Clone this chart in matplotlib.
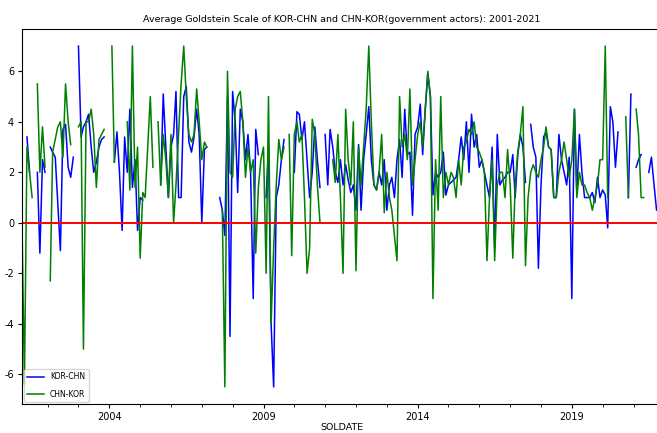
import numpy as np
import pandas as pd
import matplotlib
matplotlib.use("Agg")
import matplotlib.pyplot as plt
import matplotlib.dates as mdates
from matplotlib.ticker import FixedLocator, NullFormatter

plt.rcParams['font.family'] = ['Liberation Sans Narrow', 'DejaVu Sans']
plt.rcParams['axes.unicode_minus'] = False

N = np.nan

# monthly averages, 2001-03 .. 2021-12
months = pd.date_range("2001-03-01", "2021-12-01", freq="MS")

kor_chn = [
    N, N, 3.4, 2.0, N, N, 2.0, -1.2, 2.5, 2.0,                  # 2001
    N, 3.0, 2.8, 2.6, 0.8, -1.1, 3.7, 3.9, 2.2, 1.8, 2.6, N,   # 2002
    7.0, 3.4, 3.8, 4.0, 4.3, 3.0, 2.0, 2.4, 3.0, 3.3, 3.4, N,  # 2003
    N, N, 2.4, 3.6, 2.0, -0.3, 3.4, 2.0, 4.5, 1.4, 2.5, -0.3,  # 2004
    1.0, 0.9, N, N, N, N, N, N, 1.5, 5.1, 3.0, 1.0,            # 2005
    3.0, 3.5, 5.2, 1.0, 1.0, 5.0, 5.4, 3.2, 2.8, 3.4, 4.5, 3.5,  # 2006
    0.0, 2.9, 3.0, N, N, N, N, 1.0, 0.5, -0.5, 5.0, -4.5,      # 2007
    5.2, 4.0, 1.2, 4.5, 4.0, 2.5, 3.5, 2.0, -3.0, 3.7, 2.7, N,  # 2008
    N, 1.0, 3.0, -4.0, -6.5, 1.0, 1.5, 2.5, 3.3, N, N, N,      # 2009
    2.0, 4.4, 4.3, 3.3, 4.0, 2.5, 1.0, 2.0, 3.8, 2.5, 1.4, N,  # 2010
    3.5, 1.5, 3.7, 3.0, 2.0, 1.6, 2.5, 1.5, 2.3, 1.7, 1.2, 1.5,  # 2011
    0.5, 3.1, 0.5, 2.5, 3.5, 4.6, 2.5, 1.5, 1.3, 2.0, 1.5, 2.5,  # 2012
    0.5, 1.5, 1.8, 1.0, 2.5, 3.3, 1.8, 4.5, 2.7, 2.8, 0.3, 3.5,  # 2013
    3.8, 4.7, 2.7, 4.5, 5.9, 5.0, 1.1, 2.0, 1.8, 2.0, 2.8, 1.1,  # 2014
    1.5, 1.6, 1.7, 1.8, 2.5, 3.4, 2.5, 4.0, 2.0, 4.3, 3.0, 3.5,  # 2015
    2.2, 2.5, 2.0, 1.5, 1.0, 3.0, -1.0, 3.5, 1.5, 1.7, 1.8, 2.0,  # 2016
    2.0, 2.7, 1.0, 2.7, 3.5, 3.0, 1.6, N, 3.9, 3.0, 2.6, -1.8,  # 2017
    1.5, 3.4, 3.6, 3.0, 2.9, 1.0, 1.0, 3.5, 2.5, 2.0, 1.5, 2.6,  # 2018
    -3.0, 4.5, 1.2, 3.5, 2.0, 1.0, 1.0, 1.0, 1.2, 0.8, 1.8, 1.0,  # 2019
    1.3, 1.1, -0.2, 4.6, 4.0, 2.2, 3.6, N, N, N, 1.0, 5.1,     # 2020
    N, 2.2, 2.5, 2.7, N, N, 2.0, 2.6, 1.5, 0.5, 0.6, 0.7,      # 2021
]

chn_kor = [
    0.5, -6.4, 3.0, 2.0, 1.0, N, 5.5, 2.0, 3.8, 2.2,            # 2001
    N, -2.3, 2.8, 3.3, 3.8, 4.0, 2.6, 5.5, 4.0, 3.1, N, N,     # 2002
    3.8, 4.0, -5.0, 4.0, 4.0, 4.5, 3.5, 1.4, 3.3, 3.5, 3.7, N,  # 2003
    N, 7.0, 2.4, N, N, N, N, 4.0, 1.3, 7.0, 1.4, 3.0,          # 2004
    -1.4, 1.2, 1.0, 3.0, 5.0, 2.2, N, 4.0, 1.5, 3.5, 2.5, 1.0,  # 2005
    3.5, 0.0, 1.5, 3.5, 5.5, 7.0, 5.0, 3.5, 3.2, 3.5, 5.3, 4.0,  # 2006
    2.5, 3.2, 3.0, N, N, N, N, N, 0.5, -6.5, 6.0, 2.0,         # 2007
    1.8, 4.5, 5.0, 5.2, 4.0, 1.8, 3.0, 2.0, 2.5, -1.2, 1.4, 2.5,  # 2008
    3.0, -2.0, 5.0, -4.0, -1.0, 1.5, 3.3, 2.5, 3.0, N, 3.5, -1.3,  # 2009
    3.5, 4.0, 3.2, 3.5, 1.0, -2.0, -1.0, 4.1, 3.5, 1.5, 0.0, N,  # 2010
    N, N, N, 2.5, 1.6, 3.5, 1.0, -2.0, 4.5, 2.5, 1.5, 4.0,     # 2011
    -1.9, 3.0, 1.5, 3.0, 4.5, 7.0, 4.0, 1.5, 1.3, 2.0, 3.5, 0.4,  # 2012
    2.0, 1.0, 0.5, -0.5, -1.5, 5.0, 3.0, 3.5, 2.5, 5.3, 1.5, 2.5,  # 2013
    3.5, 4.0, 3.0, 4.5, 6.0, 5.0, -3.0, 2.5, 0.5, 5.0, 1.0, 2.0,  # 2014
    1.5, 2.0, 1.8, 1.0, 2.5, 1.5, 3.0, 3.2, 3.7, 3.5, 4.0, 3.0,  # 2015
    2.8, 2.5, 2.0, -1.5, 1.0, 2.5, -1.5, 1.5, 2.0, 2.0, 1.0, 2.9,  # 2016
    1.5, -1.4, 1.5, 2.8, 3.5, 4.6, -1.7, 1.0, 2.0, 2.3, 2.0, 1.8,  # 2017
    2.5, 3.0, 3.8, 3.0, 2.9, 1.0, 1.0, 2.0, 2.5, 3.2, 2.5, 1.8,  # 2018
    2.5, 4.5, 1.0, 2.0, 1.5, 1.5, 1.2, 1.0, 0.5, 1.0, 1.5, 2.5,  # 2019
    2.5, 7.0, 1.0, N, N, N, N, N, N, 4.2, 1.0, N,              # 2020
    N, 4.5, 3.5, 1.0, 1.0, N, N, N, N, N, N, N,                # 2021
]

major_years = [2004, 2009, 2014, 2019]
minor_years = list(range(2002, 2022))

fig = plt.figure(figsize=(6.57, 4.33), dpi=100)
ax = fig.add_axes([0.0332, 0.067, 0.974, 0.866])

ax.plot(months, kor_chn, color='blue', lw=1.1, label='KOR-CHN')
ax.plot(months, chn_kor, color='green', lw=1.1, label='CHN-KOR')
ax.axhline(0, color='red', lw=1.4)

ax.set_xlim(months[0], months[-1])
ax.set_yticks([-6, -4, -2, 0, 2, 4, 6])

major = [mdates.date2num(pd.Timestamp(f"{y}-01-01")) for y in major_years]
minor = [mdates.date2num(pd.Timestamp(f"{y}-01-01")) for y in minor_years]
ax.xaxis.set_major_locator(FixedLocator(major))
ax.xaxis.set_major_formatter(mdates.DateFormatter('%Y'))
ax.xaxis.set_minor_locator(FixedLocator(minor))
ax.xaxis.set_minor_formatter(NullFormatter())

ax.tick_params(labelsize=7, length=3, pad=2.5)
ax.tick_params(which='minor', length=2)

ax.set_title('Average Goldstein Scale of KOR-CHN and CHN-KOR(government actors): 2001-2021',
             fontsize=6.8, pad=5)
ax.set_xlabel('SOLDATE', fontsize=6.8, labelpad=1)
ax.legend(loc='lower left', fontsize=5.5, borderaxespad=0.3,
          handlelength=2.2, labelspacing=1.1)

fig.savefig('out.png', dpi=100)
